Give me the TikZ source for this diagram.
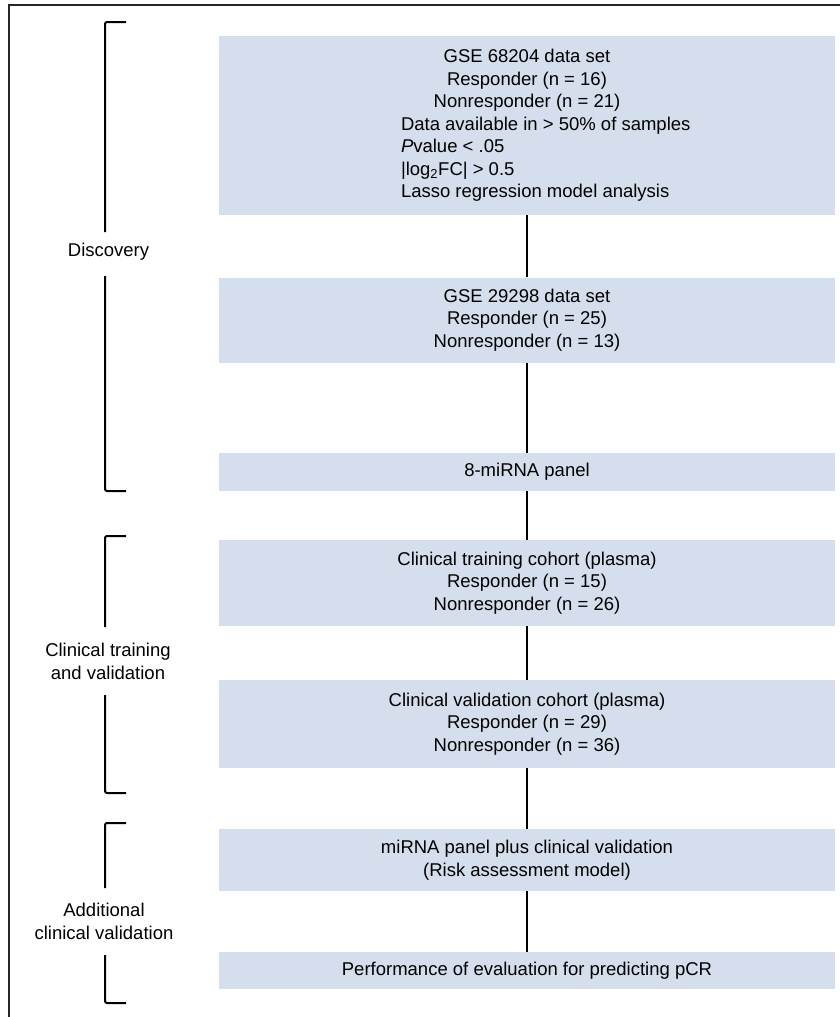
\documentclass[tikz,border=0pt]{standalone}
\usepackage{fontspec}
\setmainfont{Liberation Sans}
\usepackage{tikz}
\definecolor{panelblue}{RGB}{213,222,236}

\begin{document}
\begin{tikzpicture}[x=1pt,y=-1pt,
    panel/.style={fill=panelblue,minimum width=616pt,inner sep=0pt,align=center,
      font=\fontsize{18.5}{22.5}\selectfont},
    phase/.style={align=center,inner sep=0pt,font=\fontsize{18.5}{23}\selectfont},
    link/.style={black,line width=2.4pt},
    brace/.style={black,line width=2pt,rounded corners=2pt}]

          \useasboundingbox (0,0) rectangle (839,1017);
          \draw[line width=2pt,black!85] (850,5) -- (9,5) -- (9,1030);

          % boxes
          \node[panel,minimum height=179] (gseA) at (527,125.5) {\parbox{616pt}{\centering
              GSE 68204 data set\\ Responder (n = 16)\\ Nonresponder (n = 21)\par
              \raggedright\leftskip=182pt
              Data available in > 50\% of samples\\ \textit{P}value < .05\\
              |log\textsubscript{2}FC| > 0.5\\ Lasso regression model analysis\par}};
          \node[panel,minimum height=85] (gseB) at (527,320) {GSE 29298 data set\\ Responder (n = 25)\\ Nonresponder (n = 13)};
          \node[panel,minimum height=38] (mirna) at (527,472) {8-miRNA panel};
          \node[panel,minimum height=86] (train) at (527,583) {Clinical training cohort (plasma)\\ Responder (n = 15)\\ Nonresponder (n = 26)};
          \node[panel,minimum height=88] (valid) at (527,724) {Clinical validation cohort (plasma)\\ Responder (n = 29)\\ Nonresponder (n = 36)};
          \node[panel,minimum height=62] (risk) at (527,860) {miRNA panel plus clinical validation\\ (Risk assessment model)};
          \node[panel,minimum height=37] (perf) at (527,970.5) {Performance of evaluation for predicting pCR};

          \draw[link] (gseA) -- (gseB);
          \draw[link] (gseB) -- (mirna);
          \draw[link] (mirna) -- (train);
          \draw[link] (train) -- (valid);
          \draw[link] (valid) -- (risk);
          \draw[link] (risk) -- (perf);

          % phases
          \node[phase] (disc) at (108.5,252) {Discovery};
          \draw[brace] (126,22) -- (105,22) -- (105,232);
          \draw[brace] (105,276) -- (105,491) -- (126,491);

          \node[phase] (clin) at (108,661) {Clinical training\\ and validation};
          \draw[brace] (126,536) -- (105,536) -- (105,627);
          \draw[brace] (105,695) -- (105,793) -- (126,793);

          \node[phase] (addl) at (104,921) {Additional\\ clinical validation};
          \draw[brace] (126,823) -- (105,823) -- (105,888);
          \draw[brace] (105,955) -- (105,1003) -- (126,1003);

        \end{tikzpicture}
\end{document}
